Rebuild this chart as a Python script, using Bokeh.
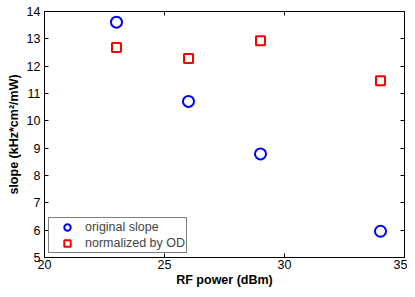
from bokeh.plotting import figure
from bokeh.models import Range1d, LinearAxis, FixedTicker, Legend, LegendItem
from bokeh.embed import file_html
from bokeh.resources import INLINE

rf_power = [23, 26, 29, 34]
original_slope = [13.61, 10.71, 8.79, 5.96]
normalized_by_od = [12.68, 12.28, 12.93, 11.47]
x_ticks = [20, 25, 30, 35]
y_ticks = [5, 6, 7, 8, 9, 10, 11, 12, 13, 14]

FONT = "Liberation Sans"

p = figure(width=407, height=289, output_backend="svg", toolbar_location=None,
           x_range=Range1d(20, 35), y_range=Range1d(5, 14),
           min_border_left=44, min_border_top=11, min_border_right=3, min_border_bottom=26)
p.xgrid.visible = False
p.ygrid.visible = False
p.outline_line_color = "black"
p.outline_line_width = 1
p.background_fill_color = "white"
p.border_fill_color = "white"

def style_axis(ax, ticks, show_labels=True):
    ax.ticker = FixedTicker(ticks=ticks)
    ax.minor_tick_line_color = None
    ax.major_tick_in = 4
    ax.major_tick_out = 0
    ax.axis_line_color = "black"
    ax.major_tick_line_color = "black"
    ax.major_label_text_font = FONT
    ax.major_label_text_font_size = "12.5px"
    ax.major_label_text_color = "black"
    ax.major_label_standoff = 4 if show_labels else 0
    if not show_labels:
        ax.major_label_overrides = {t: "" for t in ticks}

style_axis(p.xaxis[0], x_ticks)
style_axis(p.yaxis[0], y_ticks)
p.xaxis[0].major_label_standoff = 2
p.xaxis[0].axis_label = "RF power (dBm)"
p.yaxis[0].axis_label = "slope (kHz*cm²/mW)"
for ax in (p.xaxis[0], p.yaxis[0]):
    ax.axis_label_text_font = FONT
    ax.axis_label_text_font_size = "12.5px"
    ax.axis_label_text_font_style = "bold"
    ax.axis_label_text_color = "black"
    ax.axis_label_standoff = 3
p.xaxis[0].axis_label_standoff = 1

top = LinearAxis()
style_axis(top, x_ticks, show_labels=False)
right = LinearAxis()
style_axis(right, y_ticks, show_labels=False)
p.add_layout(top, "above")
p.add_layout(right, "right")

r1 = p.scatter(rf_power, original_slope, marker="circle", size=11, fill_color=None,
               line_color="blue", line_width=2)
r2 = p.scatter(rf_power, normalized_by_od, marker="square", size=9, fill_color=None,
               line_color="red", line_width=2)

legend = Legend(items=[LegendItem(label="original slope", renderers=[r1]),
                       LegendItem(label="normalized by OD", renderers=[r2])],
                location="bottom_left")
legend.margin = 4
legend.padding = 1
legend.spacing = 0
legend.glyph_height = 16
legend.glyph_width = 34
legend.label_height = 16
legend.label_standoff = 1
legend.label_text_font = FONT
legend.label_text_font_size = "12.5px"
legend.border_line_color = "black"
legend.border_line_width = 1
legend.background_fill_alpha = 1
p.add_layout(legend)

open("out.html", "w").write(file_html(p, INLINE))
